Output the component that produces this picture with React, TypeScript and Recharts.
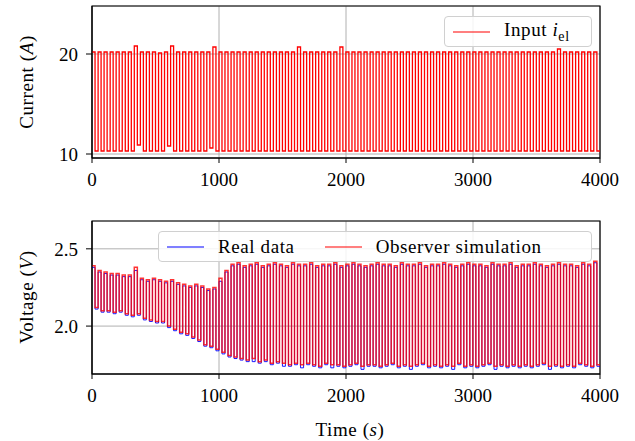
import React from "react";
import {
  LineChart,
  Line,
  XAxis,
  YAxis,
  CartesianGrid,
  ReferenceArea,
} from "recharts";

// start time (s) of each current cycle; high phase first, low phase second
const cycleStart = [
  0, 48, 95, 143, 190, 238, 286, 333, 381, 428, 476, 524,
  571, 619, 666, 714, 762, 809, 857, 904, 952, 1000, 1047, 1095,
  1142, 1190, 1238, 1285, 1333, 1380, 1428, 1476, 1523, 1571, 1618, 1666,
  1714, 1761, 1809, 1856, 1904, 1952, 1999, 2047, 2094, 2142, 2190, 2237,
  2285, 2332, 2380, 2428, 2475, 2523, 2570, 2618, 2666, 2713, 2761, 2808,
  2856, 2904, 2951, 2999, 3046, 3094, 3142, 3189, 3237, 3284, 3332, 3380,
  3427, 3475, 3522, 3570, 3618, 3665, 3713, 3760, 3808, 3856, 3903, 3951,
];
const endTime = 4000;

const currentHigh = [
  20.2, 20.2, 20.2, 20.2, 20.2, 20.2, 20.2, 20.8, 20.2, 20.2, 20.2, 20.1,
  20.2, 20.8, 20.2, 20.2, 20.2, 20.2, 20.2, 20.2, 20.7, 20.2, 20.2, 20.2,
  20.2, 20.2, 20.2, 20.2, 20.2, 20.2, 20.2, 20.2, 20.2, 20.2, 20.7, 20.2,
  20.2, 20.2, 20.2, 20.2, 20.2, 20.7, 20.2, 20.2, 20.2, 20.2, 20.2, 20.2,
  20.2, 20.2, 20.2, 20.2, 20.2, 20.2, 20.2, 20.2, 20.2, 20.2, 20.2, 20.2,
  20.2, 20.2, 20.2, 20.2, 20.2, 20.2, 20.2, 20.2, 20.2, 20.2, 20.2, 20.2,
  20.2, 20.2, 20.2, 20.2, 20.2, 20.5, 20.2, 20.2, 20.2, 20.2, 20.2, 20.2,
];
const currentLow = [
  10.3, 10.3, 10.3, 10.3, 10.3, 10.3, 10.3, 10.9, 10.3, 10.3, 10.3, 10.3,
  10.8, 10.3, 10.3, 10.3, 10.3, 10.3, 10.3, 10.6, 10.3, 10.3, 10.3, 10.3,
  10.3, 10.3, 10.3, 10.3, 10.3, 10.3, 10.3, 10.3, 10.3, 10.3, 10.3, 10.3,
  10.3, 10.3, 10.3, 10.3, 10.3, 10.3, 10.3, 10.3, 10.3, 10.3, 10.3, 10.3,
  10.3, 10.3, 10.3, 10.3, 10.3, 10.3, 10.3, 10.3, 10.3, 10.3, 10.3, 10.3,
  10.3, 10.3, 10.3, 10.3, 10.3, 10.3, 10.3, 10.3, 10.3, 10.3, 10.3, 10.3,
  10.3, 10.3, 10.3, 10.3, 10.3, 10.3, 10.3, 10.3, 10.3, 10.3, 10.3, 10.3,
];

// voltage per cycle (high-current phase / low-current phase)
const simHigh = [
  2.39, 2.36, 2.35, 2.34, 2.34, 2.33, 2.33, 2.38, 2.31, 2.30, 2.31, 2.30,
  2.29, 2.30, 2.28, 2.27, 2.26, 2.27, 2.26, 2.24, 2.25, 2.31, 2.36, 2.40,
  2.41, 2.39, 2.40, 2.41, 2.39, 2.40, 2.41, 2.40, 2.39, 2.41, 2.40, 2.40,
  2.41, 2.39, 2.40, 2.40, 2.41, 2.39, 2.40, 2.41, 2.40, 2.39, 2.40, 2.41,
  2.40, 2.40, 2.39, 2.41, 2.40, 2.40, 2.41, 2.39, 2.40, 2.40, 2.41, 2.40,
  2.39, 2.40, 2.41, 2.40, 2.40, 2.39, 2.41, 2.40, 2.40, 2.41, 2.39, 2.40,
  2.40, 2.41, 2.40, 2.39, 2.40, 2.41, 2.40, 2.40, 2.39, 2.41, 2.40, 2.42,
];
const simLow = [
  2.12, 2.10, 2.10, 2.09, 2.10, 2.08, 2.07, 2.08, 2.05, 2.04, 2.03, 2.03,
  2.00, 1.98, 1.96, 1.95, 1.93, 1.91, 1.88, 1.87, 1.85, 1.83, 1.81, 1.80,
  1.79, 1.78, 1.79, 1.77, 1.78, 1.76, 1.77, 1.76, 1.75, 1.76, 1.75, 1.76,
  1.75, 1.74, 1.76, 1.75, 1.75, 1.74, 1.75, 1.76, 1.74, 1.75, 1.75, 1.74,
  1.75, 1.76, 1.74, 1.75, 1.74, 1.75, 1.76, 1.74, 1.75, 1.74, 1.75, 1.74,
  1.76, 1.74, 1.75, 1.74, 1.75, 1.76, 1.74, 1.75, 1.74, 1.75, 1.74, 1.75,
  1.74, 1.75, 1.76, 1.74, 1.75, 1.74, 1.75, 1.74, 1.76, 1.75, 1.74, 1.75,
];
const realHigh = [
  2.38, 2.35, 2.34, 2.33, 2.33, 2.32, 2.32, 2.36, 2.30, 2.29, 2.30, 2.29,
  2.28, 2.29, 2.27, 2.26, 2.25, 2.26, 2.25, 2.23, 2.24, 2.29, 2.35, 2.39,
  2.40, 2.38, 2.39, 2.40, 2.38, 2.39, 2.40, 2.39, 2.38, 2.40, 2.39, 2.39,
  2.40, 2.38, 2.39, 2.39, 2.40, 2.38, 2.39, 2.40, 2.39, 2.38, 2.39, 2.40,
  2.39, 2.39, 2.38, 2.40, 2.39, 2.39, 2.40, 2.38, 2.39, 2.39, 2.40, 2.39,
  2.38, 2.39, 2.40, 2.39, 2.39, 2.38, 2.40, 2.39, 2.39, 2.40, 2.38, 2.39,
  2.39, 2.40, 2.39, 2.38, 2.39, 2.40, 2.39, 2.39, 2.38, 2.40, 2.39, 2.41,
];
const realLow = [
  2.11, 2.09, 2.09, 2.08, 2.09, 2.07, 2.06, 2.07, 2.04, 2.03, 2.02, 2.02,
  1.99, 1.97, 1.95, 1.94, 1.92, 1.90, 1.87, 1.86, 1.84, 1.82, 1.80, 1.79,
  1.78, 1.77, 1.77, 1.76, 1.77, 1.75, 1.76, 1.74, 1.74, 1.75, 1.73, 1.75,
  1.74, 1.73, 1.75, 1.73, 1.74, 1.73, 1.74, 1.75, 1.72, 1.74, 1.74, 1.73,
  1.74, 1.75, 1.73, 1.74, 1.72, 1.74, 1.75, 1.73, 1.74, 1.73, 1.74, 1.72,
  1.75, 1.73, 1.74, 1.73, 1.74, 1.75, 1.72, 1.74, 1.73, 1.74, 1.73, 1.74,
  1.73, 1.74, 1.75, 1.72, 1.74, 1.73, 1.74, 1.73, 1.75, 1.74, 1.73, 1.74,
];

const xTicks = [0, 1000, 2000, 3000, 4000];
const currentTicks = [10, 20];
const voltageTicks = [2.0, 2.5];

const FONT = "'Liberation Serif', serif";
const tickStyle = { fontSize: 19, fill: "#000", fontFamily: FONT };

// turn per-cycle levels into step points (switch at the middle of each cycle)
const currentData: { t: number; i: number }[] = [];
const voltageData: { t: number; real: number; sim: number }[] = [];
cycleStart.forEach((t0, k) => {
  const t1 = k + 1 < cycleStart.length ? cycleStart[k + 1] : endTime;
  const tm = (t0 + t1) / 2;
  currentData.push(
    { t: t0, i: currentHigh[k] },
    { t: tm, i: currentHigh[k] },
    { t: tm, i: currentLow[k] },
    { t: t1, i: currentLow[k] }
  );
  voltageData.push(
    { t: t0, real: realHigh[k], sim: simHigh[k] },
    { t: tm, real: realHigh[k], sim: simHigh[k] },
    { t: tm, real: realLow[k], sim: simLow[k] },
    { t: t1, real: realLow[k], sim: simLow[k] }
  );
});

const legendBox: React.CSSProperties = {
  position: "absolute",
  boxSizing: "border-box",
  border: "1px solid #d0d0d0",
  borderRadius: 4,
  background: "rgba(255,255,255,0.85)",
  fontFamily: FONT,
  fontSize: 19,
  letterSpacing: 0.6,
  display: "flex",
  alignItems: "center",
  whiteSpace: "nowrap",
};

function Swatch({ color }: { color: string }) {
  return (
    <svg width={37} height={4} style={{ marginRight: 14, flexShrink: 0 }}>
      <line x1={0} x2={37} y1={2} y2={2} stroke={color} strokeWidth={1.2} />
    </svg>
  );
}

function YLabel({ top, children }: { top: number; children: React.ReactNode }) {
  return (
    <div
      style={{
        position: "absolute",
        left: 27,
        top,
        transform: "translate(-50%, -50%) rotate(-90deg)",
        fontFamily: FONT,
        fontSize: 19,
        letterSpacing: 0.6,
        whiteSpace: "nowrap",
      }}
    >
      {children}
    </div>
  );
}

export default function App() {
  return (
    <div
      style={{
        position: "absolute",
        left: 0,
        top: 0,
        width: 635,
        height: 441,
        background: "#fff",
      }}
    >
      <div style={{ position: "absolute", left: 0, top: 0 }}>
        <LineChart
          width={635}
          height={190}
          data={currentData}
          margin={{ top: 6, right: 35, left: 0, bottom: 0 }}
        >
          <CartesianGrid stroke="#b0b0b0" strokeWidth={1} />
          <XAxis
            dataKey="t"
            type="number"
            domain={[0, 4000]}
            ticks={xTicks}
            height={32}
            tick={tickStyle}
            tickSize={5}
            tickMargin={10}
            stroke="#000"
            allowDataOverflow
          />
          <YAxis
            type="number"
            domain={[9.6, 24.8]}
            ticks={currentTicks}
            width={92}
            tick={tickStyle}
            tickSize={6}
            tickMargin={8}
            stroke="#000"
            allowDataOverflow
          />
          <Line
            dataKey="i"
            type="linear"
            stroke="#ff0000"
            strokeWidth={1.3}
            dot={false}
            isAnimationActive={false}
          />
          <ReferenceArea
            x1={0}
            x2={4000}
            y1={9.6}
            y2={24.8}
            fill="none"
            stroke="#000"
            strokeWidth={1.2}
            ifOverflow="visible"
          />
        </LineChart>
      </div>

      <div style={{ position: "absolute", left: 0, top: 215 }}>
        <LineChart
          width={635}
          height={191}
          data={voltageData}
          margin={{ top: 6, right: 35, left: 0, bottom: 0 }}
        >
          <CartesianGrid stroke="#b0b0b0" strokeWidth={1} />
          <XAxis
            dataKey="t"
            type="number"
            domain={[0, 4000]}
            ticks={xTicks}
            height={32}
            tick={tickStyle}
            tickSize={5}
            tickMargin={10}
            stroke="#000"
            allowDataOverflow
          />
          <YAxis
            type="number"
            domain={[1.69, 2.68]}
            ticks={voltageTicks}
            tickFormatter={(v: number) => v.toFixed(1)}
            width={92}
            tick={tickStyle}
            tickSize={6}
            tickMargin={8}
            stroke="#000"
            allowDataOverflow
          />
          <Line
            dataKey="real"
            type="linear"
            stroke="#0000ff"
            strokeWidth={0.9}
            dot={false}
            isAnimationActive={false}
          />
          <Line
            dataKey="sim"
            type="linear"
            stroke="#ff0000"
            strokeOpacity={0.8}
            strokeWidth={1.5}
            dot={false}
            isAnimationActive={false}
          />
          <ReferenceArea
            x1={0}
            x2={4000}
            y1={1.69}
            y2={2.68}
            fill="none"
            stroke="#000"
            strokeWidth={1.2}
            ifOverflow="visible"
          />
        </LineChart>
      </div>

      <YLabel top={82}>
        Current (<i>A</i>)
      </YLabel>
      <YLabel top={297}>
        Voltage (<i>V</i>)
      </YLabel>

      <div
        style={{
          position: "absolute",
          left: 350,
          top: 430,
          transform: "translate(-50%, -50%)",
          fontFamily: FONT,
          fontSize: 19,
          letterSpacing: 0.6,
          whiteSpace: "nowrap",
        }}
      >
        Time (<i>s</i>)
      </div>

      <div style={{ ...legendBox, left: 444, top: 16, width: 148, height: 31, paddingLeft: 8 }}>
        <Swatch color="#ff0000" />
        <span>
          Input <i>i</i>
          <sub style={{ fontSize: 14 }}>el</sub>
        </span>
      </div>

      <div style={{ ...legendBox, left: 158, top: 231, width: 434, height: 31, paddingLeft: 8 }}>
        <Swatch color="#0000ff" />
        <span style={{ marginRight: 30 }}>Real data</span>
        <Swatch color="#ff0000" />
        <span>Observer simulation</span>
      </div>
    </div>
  );
}
